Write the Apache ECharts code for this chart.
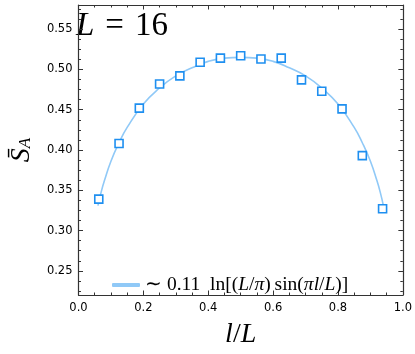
<!DOCTYPE html>
<html>
<head>
<meta charset="utf-8">
<script src="https://cdn.jsdelivr.net/npm/echarts@6/dist/echarts.min.js"></script>
<style>
  html, body { margin: 0; padding: 0; background: #fff; }
  #main { width: 415px; height: 354px; }
</style>
</head>
<body>
<div id="main"></div>
<script>
// data points (l/L, S_A)
var pointX = [0.0625, 0.125, 0.1875, 0.25, 0.3125, 0.375, 0.4375, 0.5, 0.5625, 0.625, 0.6875, 0.75, 0.8125, 0.875, 0.9375];
var pointY = [0.339, 0.408, 0.452, 0.482, 0.492, 0.509, 0.514, 0.517, 0.513, 0.514, 0.487, 0.473, 0.451, 0.393, 0.327];

// fitted curve
var curveX = [0.06, 0.07, 0.08, 0.10, 0.125, 0.15, 0.20, 0.25, 0.30, 0.35, 0.40, 0.45, 0.50,
              0.55, 0.60, 0.65, 0.70, 0.75, 0.80, 0.85, 0.875, 0.90, 0.92, 0.93, 0.94];
var curveY = [0.331, 0.348, 0.362, 0.386, 0.409, 0.428, 0.457, 0.477, 0.492, 0.502, 0.510, 0.514, 0.515,
              0.514, 0.510, 0.502, 0.492, 0.477, 0.457, 0.428, 0.409, 0.386, 0.362, 0.348, 0.331];

var xTicks = [0.0, 0.2, 0.4, 0.6, 0.8, 1.0];
var yTicks = [0.25, 0.30, 0.35, 0.40, 0.45, 0.50, 0.55];
var yMinor = [];
for (var v = 0.225; v < 0.58; v += 0.0125) yMinor.push(Math.round(v * 10000) / 10000);

var fitName = 'fit';
var axisColor = '#333';
var serif = 'Liberation Serif';

var myChart = echarts.init(document.getElementById('main'));

function yAx(pos, minor, labels) {
  return {
    type: 'value', position: pos, min: 0.22, max: 0.58,
    name: (pos === 'left' && labels) ? '{s|S\u0304}{a|A}' : '',
    nameLocation: 'middle', nameRotate: 90, nameGap: 36,
    nameTextStyle: {
      rich: {
        s: { fontFamily: serif, fontStyle: 'italic', fontSize: 28, color: '#000' },
        a: { fontFamily: serif, fontStyle: 'italic', fontSize: 17, color: '#000', padding: [0, 0, -8, 0] }
      }
    },
    axisLine: { show: !minor, lineStyle: { color: axisColor, width: 1.2 } },
    axisTick: { show: true, inside: true, length: minor ? 2.5 : 4.5, customValues: minor ? yMinor : yTicks, lineStyle: { color: axisColor, width: 1 } },
    axisLabel: { show: labels, customValues: yTicks, margin: 6, fontFamily: 'DejaVu Sans', fontSize: 11.5, color: '#000',
                 formatter: function (val) { return val.toFixed(2); } },
    splitLine: { show: false }
  };
}

function xAx(pos, labels) {
  return {
    type: 'value', position: pos, min: 0, max: 1, interval: 0.2,
    name: labels ? '{i|l}{n|/}{i|L}' : '',
    nameLocation: 'middle', nameGap: 26,
    nameTextStyle: {
      rich: {
        i: { fontFamily: serif, fontStyle: 'italic', fontSize: 28, color: '#000' },
        n: { fontFamily: serif, fontSize: 28, color: '#000' }
      }
    },
    axisLine: { show: true, lineStyle: { color: axisColor, width: 1.2 } },
    axisTick: { show: true, inside: true, length: 4.5, lineStyle: { color: axisColor, width: 1 } },
    minorTick: { show: true, splitNumber: 4, length: 2.5, lineStyle: { color: axisColor, width: 1 } },
    axisLabel: { show: labels, margin: 7, fontFamily: 'DejaVu Sans', fontSize: 11.5, color: '#000',
                 formatter: function (val) { return val.toFixed(1); } },
    splitLine: { show: false }
  };
}

var option = {
  animation: false,
  backgroundColor: '#fff',
  grid: { left: 67, right: 12, top: 5, bottom: 42 },
  xAxis: [xAx('bottom', true), xAx('top', false)],
  yAxis: [yAx('left', false, true), yAx('left', true, false), yAx('right', false, false), yAx('right', true, false)],
  legend: {
    data: [fitName],
    left: 107, top: 270,
    icon: 'roundRect', itemWidth: 28, itemHeight: 4, itemGap: 5,
    formatter: function () {
      return '{n|\u223c 0.11  ln[(}{i|L}{n|/}{i|\u03c0}{n|)\u2009sin(}{i|\u03c0l}{n|/}{i|L}{n|)]}';
    },
    textStyle: {
      rich: {
        n: { fontFamily: serif, fontSize: 19.5, color: '#000' },
        i: { fontFamily: serif, fontStyle: 'italic', fontSize: 19.5, color: '#000' }
      }
    }
  },
  graphic: [{
    type: 'text', left: 76, top: 10,
    style: {
      text: '{i|L}{n| \u200a=\u200a 16}',
      rich: {
        i: { fontFamily: serif, fontStyle: 'italic', fontSize: 33, fill: '#000' },
        n: { fontFamily: serif, fontSize: 33, fill: '#000' }
      }
    }
  }],
  series: [
    {
      name: fitName, type: 'line', smooth: true, showSymbol: false, symbol: 'none',
      data: curveX.map(function (x, i) { return [x, curveY[i]]; }),
      lineStyle: { color: '#90c9f7', width: 1.6 },
      itemStyle: { color: '#90c9f7' }
    },
    {
      name: 'data', type: 'scatter', symbol: 'rect', symbolSize: 8,
      data: pointX.map(function (x, i) { return [x, pointY[i]]; }),
      itemStyle: { color: '#fff', borderColor: '#1e8ff0', borderWidth: 1.6, opacity: 1 },
      z: 5
    }
  ]
};

option && myChart.setOption(option);
</script>
</body>
</html>
